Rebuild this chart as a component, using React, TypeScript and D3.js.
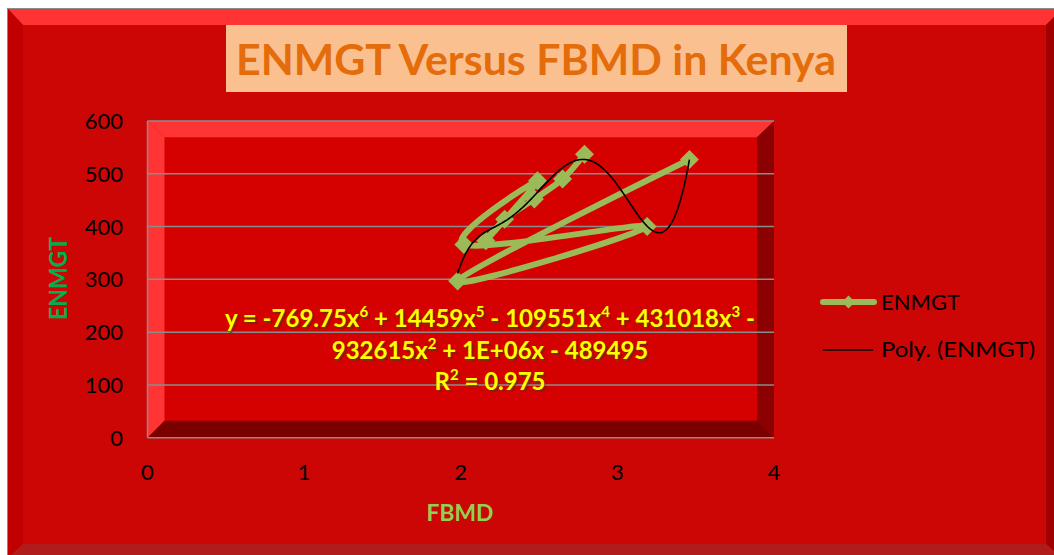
import React from "react";
import * as d3 from "d3";

// ---- data ----
const fbmd = [2.79, 2.65, 2.47, 2.28, 2.16, 2.49, 2.02, 3.19, 1.98, 3.46];
const enmgt = [537, 490, 452, 414, 373, 487, 366, 400, 297, 527];
const xTicks = [0, 1, 2, 3, 4];
const yTicks = [0, 100, 200, 300, 400, 500, 600];
const titleText = "ENMGT Versus FBMD in Kenya";
const xTitle = "FBMD";
const yTitle = "ENMGT";
const seriesName = "ENMGT";
const trendName = "Poly. (ENMGT)";
const eqLine1: [string, boolean][] = [
  ["y = -769.75x", false], ["6", true], [" + 14459x", false], ["5", true],
  [" - 109551x", false], ["4", true], [" + 431018x", false], ["3", true], [" -", false],
];
const eqLine2: [string, boolean][] = [
  ["932615x", false], ["2", true], [" + 1E+06x - 489495", false],
];
const eqLine3: [string, boolean][] = [["R", false], ["2", true], [" = 0.975", false]];

// least-squares polynomial (what the Excel trendline does)
function polyfit(xs: number[], ys: number[], deg: number) {
  const mx = d3.mean(xs) as number;
  const sx = ((d3.max(xs) as number) - (d3.min(xs) as number)) / 2;
  const n = deg + 1;
  const A = Array.from({ length: n }, () => new Array(n + 1).fill(0));
  xs.forEach((x, i) => {
    const u = (x - mx) / sx;
    const p = Array.from({ length: n }, (_, k) => Math.pow(u, k));
    for (let r = 0; r < n; r++) {
      for (let c = 0; c < n; c++) A[r][c] += p[r] * p[c];
      A[r][n] += p[r] * ys[i];
    }
  });
  for (let col = 0; col < n; col++) {
    let piv = col;
    for (let r = col + 1; r < n; r++) if (Math.abs(A[r][col]) > Math.abs(A[piv][col])) piv = r;
    [A[col], A[piv]] = [A[piv], A[col]];
    for (let r = 0; r < n; r++) {
      if (r === col) continue;
      const f = A[r][col] / A[col][col];
      for (let c = col; c <= n; c++) A[r][c] -= f * A[col][c];
    }
  }
  const coef = A.map((row, i) => row[n] / row[i]);
  return (x: number) => {
    const u = (x - mx) / sx;
    return coef.reduce((s, c, k) => s + c * Math.pow(u, k), 0);
  };
}

const W = 1054, H = 555;
const PL = 147.5, PR = 774, PT = 121, PB = 437.7, BV = 17;

function Eq({ parts, x, y, fill }: { parts: [string, boolean][]; x: number; y: number; fill: string }) {
  return (
    <text x={x} y={y} textAnchor="middle" fontFamily="Lato" fontWeight="bold" fontSize={24} fill={fill}>
      {parts.map(([t, sup], i) =>
        sup ? (
          <tspan key={i} fontSize={15} dy={-10}>{t}</tspan>
        ) : (
          <tspan key={i} dy={i > 0 && parts[i - 1][1] ? 10 : 0}>{t}</tspan>
        )
      )}
    </text>
  );
}

export default function App() {
  const x = d3.scaleLinear().domain([0, 4]).range([PL, PR]);
  const y = d3.scaleLinear().domain([0, 600]).range([PB, PT]);
  const pts = fbmd.map((v, i) => [x(v), y(enmgt[i])] as [number, number]);
  const line = d3.line().curve(d3.curveCardinal.tension(0));
  const fit = polyfit(fbmd, enmgt, 6);
  const [x0, x1] = d3.extent(fbmd) as [number, number];
  const tx = d3.range(0, 301).map((i) => x0 + ((x1 - x0) * i) / 300);
  const trendPath = d3.line<number>().x((v) => x(v)).y((v) => y(fit(v)))(tx) as string;
  const diamond = (cx: number, cy: number, r: number) =>
    `M${cx},${cy - r}L${cx + r},${cy}L${cx},${cy + r}L${cx - r},${cy}Z`;
  const eqC = 490;
  const green = "#9BBB59";

  return (
    <svg width={W} height={H} style={{ position: "absolute", left: 0, top: 0, display: "block" }}>
      {/* chart area with bevel */}
      <rect x={7.5} y={8.5} width={1060} height={560} fill="#CC0505" stroke="#8a8a8a" strokeWidth={1} />
      <polygon points="8,9 1062,9 1046,25 23,25" fill="#FF3333" />
      <polygon points="8,9 23,25 23,544 8,558" fill="#C00000" />
      <polygon points="1046,25 1062,9 1062,558 1046,544" fill="#A00000" />
      <polygon points="23,544 1046,544 1062,558 8,558" fill="#B01C1C" />

      {/* title */}
      <rect x={226} y={25} width={621} height={67} fill="#FAC090" />
      <text x={536} y={75} textAnchor="middle" fontFamily="Lato" fontWeight="bold" fontSize={42}
        fill="#E46C0A" textLength={600} lengthAdjust="spacingAndGlyphs">{titleText}</text>

      {/* plot area with bevel */}
      <rect x={PL} y={PT} width={PR - PL} height={PB - PT} fill="#D50000" />
      <polygon points={`${PL},${PT} ${PR},${PT} ${PR - BV},${PT + 16.3} ${PL + BV},${PT + 16.3}`} fill="#FF3535" />
      <polygon points={`${PL},${PT} ${PL + BV},${PT + 16.3} ${PL + BV},${PB - BV} ${PL},${PB}`} fill="#FF3535" />
      <polygon points={`${PR},${PT} ${PR},${PB} ${PR - BV},${PB - BV} ${PR - BV},${PT + 16.3}`} fill="#8B0000" />
      <polygon points={`${PL},${PB} ${PL + BV},${PB - BV} ${PR - BV},${PB - BV} ${PR},${PB}`} fill="#7A0000" />

      {yTicks.map((t) => (
        <line key={t} x1={PL} x2={PR} y1={y(t)} y2={y(t)} stroke="#8C8C8C" strokeWidth={1.5} />
      ))}
      <line x1={PL} x2={PL} y1={PT} y2={PB} stroke="#8C8C8C" strokeWidth={1.5} />

      {/* tick labels */}
      {yTicks.map((t) => (
        <text key={t} x={123} y={y(t) + 8} textAnchor="end" fontFamily="Lato" fontSize={22} fill="#000">{t}</text>
      ))}
      {xTicks.map((t) => (
        <text key={t} x={x(t)} y={480} textAnchor="middle" fontFamily="Lato" fontSize={22} fill="#000">{t}</text>
      ))}

      {/* axis titles */}
      <text x={460} y={521} textAnchor="middle" fontFamily="Lato" fontWeight="bold" fontSize={23}
        fill="#92D050" textLength={67} lengthAdjust="spacingAndGlyphs">{xTitle}</text>
      <text transform="translate(67,278.5) rotate(-90)" textAnchor="middle" fontFamily="Lato" fontWeight="bold"
        fontSize={24} fill="#00B050" textLength={83} lengthAdjust="spacingAndGlyphs">{yTitle}</text>

      {/* series */}
      <path d={line(pts) as string} fill="none" stroke={green} strokeWidth={6} strokeLinejoin="round" strokeLinecap="round" />
      {pts.map(([cx, cy], i) => (
        <path key={i} d={diamond(cx, cy, 9.5)} fill={green} />
      ))}
      <path d={trendPath} fill="none" stroke="#000" strokeWidth={1.6} />

      {/* trendline equation */}
      <g transform="translate(1.5,1.5)" opacity={0.55}>
        <Eq parts={eqLine1} x={eqC} y={327} fill="#404000" />
        <Eq parts={eqLine2} x={eqC} y={359} fill="#404000" />
        <Eq parts={eqLine3} x={eqC} y={390} fill="#404000" />
      </g>
      <Eq parts={eqLine1} x={eqC} y={327} fill="#FFFF00" />
      <Eq parts={eqLine2} x={eqC} y={359} fill="#FFFF00" />
      <Eq parts={eqLine3} x={eqC} y={390} fill="#FFFF00" />

      {/* legend */}
      <line x1={823} x2={874} y1={302} y2={302} stroke={green} strokeWidth={6} strokeLinecap="round" />
      <path d={diamond(848.5, 302, 6.5)} fill={green} />
      <text x={881} y={310} fontFamily="Lato" fontSize={22} fill="#000">{seriesName}</text>
      <line x1={823} x2={873} y1={350} y2={350} stroke="#000" strokeWidth={1.6} />
      <text x={881} y={357} fontFamily="Lato" fontSize={22} fill="#000" textLength={154} lengthAdjust="spacingAndGlyphs">{trendName}</text>
    </svg>
  );
}
